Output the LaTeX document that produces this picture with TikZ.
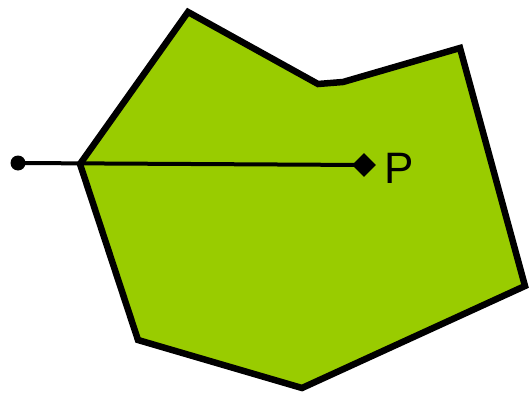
\documentclass[tikz,border=0pt]{standalone}
\usepackage{fontspec}
\setmainfont{Liberation Sans}
\usetikzlibrary{shapes.geometric}
\definecolor{polygreen}{HTML}{99CC00}
\begin{document}
\begin{tikzpicture}[x=1pt,y=-1pt,
  poly/.style={fill=polygreen,draw=black,line width=6.5pt,line join=miter},
  ray/.style={draw=black,line width=4pt},
  dot/.style={circle,fill=black,inner sep=0pt,minimum size=15pt},
  lbl/.style={font=\fontsize{44}{44}\selectfont,inner sep=0pt}]
\useasboundingbox (0,0) rectangle (530,396);
\coordinate (v1) at (188,12);
\coordinate (v2) at (318,84);
\coordinate (v3) at (343,82);
\coordinate (v4) at (460,48);
\coordinate (v5) at (525,286);
\coordinate (v6) at (302,388);
\coordinate (v7) at (138,340);
\coordinate (v8) at (80,164);
\filldraw[poly] (v1) -- (v2) -- (v3) -- (v4) -- (v5) -- (v6) -- (v7) -- (v8) -- cycle;
\node[dot] (a) at (18,163) {};
\node[dot,shape=diamond,minimum size=24pt] (p) at (364,165) {};
\draw[ray] (a.center) -- (p.center);
\node[lbl,anchor=base west] (plabel) at (384,183) {P};
\end{tikzpicture}
\end{document}
